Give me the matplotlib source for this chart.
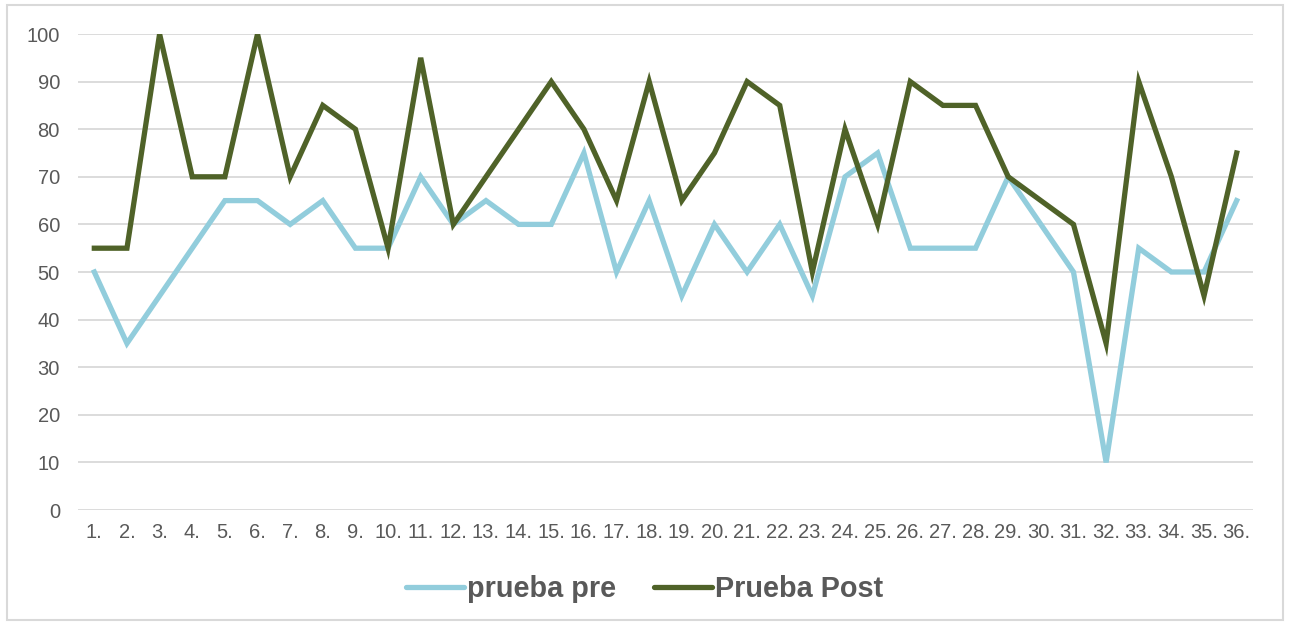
import numpy as np
import matplotlib
matplotlib.use('Agg')
import matplotlib.pyplot as plt
from matplotlib.patches import Rectangle

plt.rcParams['font.family'] = ['Liberation Sans', 'DejaVu Sans']

labels = [str(i) + '.' for i in range(1, 37)]
prueba_pre = [50, 35, 45, 55, 65, 65, 60, 65, 55, 55, 70, 60, 65, 60, 60, 75, 50, 65,
              45, 60, 50, 60, 45, 70, 75, 55, 55, 55, 70, 60, 50, 10, 55, 50, 50, 65]
prueba_post = [55, 55, 100, 70, 70, 100, 70, 85, 80, 55, 95, 60, 70, 80, 90, 80, 65, 90,
               65, 75, 90, 85, 50, 80, 60, 90, 85, 85, 70, 65, 60, 35, 90, 70, 45, 75]

x = np.arange(1, len(labels) + 1)

fig = plt.figure(figsize=(12.89, 6.24), dpi=100)
ax = fig.add_axes([78/1289, 1 - 510/624, (1253 - 78)/1289, (510 - 34)/624])

ax.plot(x, prueba_pre, color='#92CDDC', lw=3.8, label='prueba pre', solid_joinstyle='miter')
ax.plot(x, prueba_post, color='#4F6228', lw=3.8, label='Prueba Post', solid_joinstyle='miter')

ax.set_xlim(0.5, len(labels) + 0.5)
ax.set_ylim(0, 100)
ax.set_yticks(range(0, 101, 10))
ax.set_xticks(x)
ax.set_xticklabels(labels)
ax.yaxis.grid(True, color='#D9D9D9', lw=1.3)
ax.set_axisbelow(True)
for s in ax.spines.values():
    s.set_visible(False)
ax.tick_params(axis='both', length=0, labelsize=14.5, labelcolor='#595959')
ax.tick_params(axis='x', pad=9)
ax.tick_params(axis='y', pad=13)

leg = fig.legend(loc='center', bbox_to_anchor=(0.5, 1 - 589/624), ncol=2, frameon=False,
                 prop={'weight': 'bold', 'size': 20.8}, handlelength=2.0, handletextpad=0.12,
                 columnspacing=1.3, borderpad=0)
for t in leg.get_texts():
    t.set_color('#595959')
for h in leg.get_lines():
    h.set_solid_capstyle('round')

fig.patches.append(Rectangle((7/1289, 4/624), 1276/1289, 615/624, transform=fig.transFigure,
                             fill=False, edgecolor='#D9D9D9', lw=1.5))

fig.savefig('out.png', dpi=100)
